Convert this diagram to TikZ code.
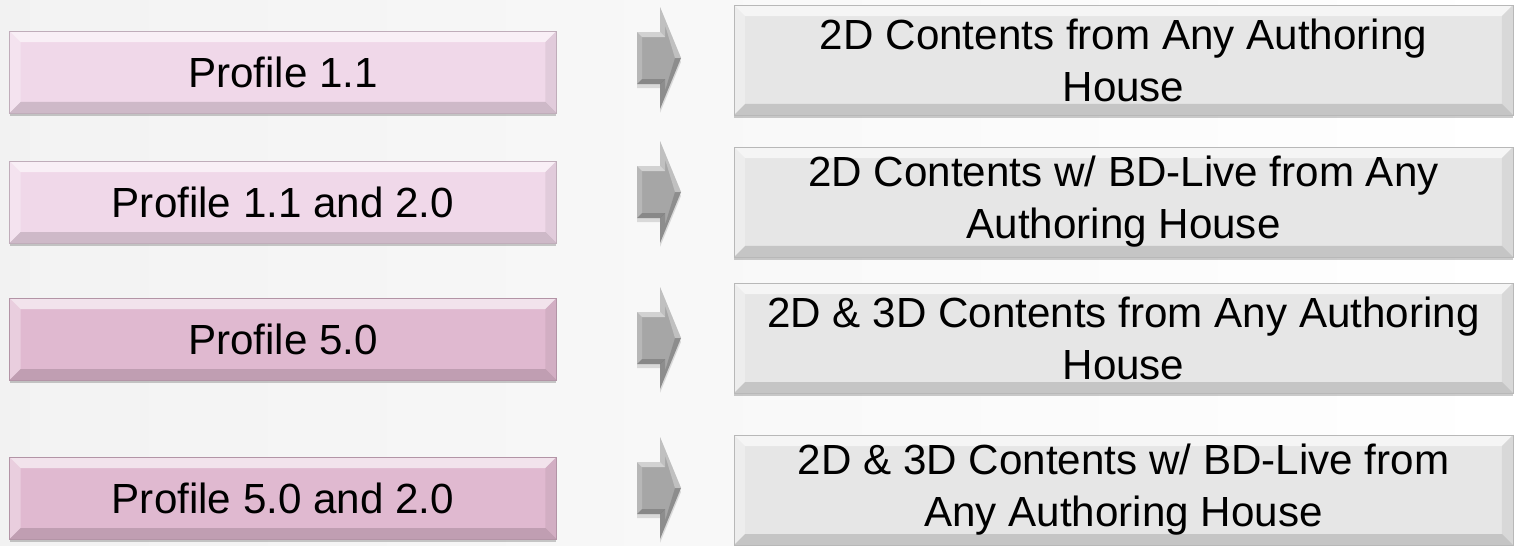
\documentclass[tikz,border=0pt]{standalone}
\usepackage{fontspec}
\setmainfont{Liberation Sans}
\usetikzlibrary{shadows}

\definecolor{pinklight}{RGB}{240,216,233}
\definecolor{pinkdark}{RGB}{224,185,208}
\definecolor{boxgray}{RGB}{230,230,230}
\definecolor{arrgray}{RGB}{166,166,166}

\def\bv{0.22cm} % bevel width

\tikzset{
  bevel/.style={path picture={
    % light facets (top, left)
    \fill[white,opacity=.6] (path picture bounding box.north west) -- (path picture bounding box.north east)
      -- ([shift={(-\bv,-\bv)}]path picture bounding box.north east) -- ([shift={(\bv,-\bv)}]path picture bounding box.north west) -- cycle;
    \fill[white,opacity=.3] (path picture bounding box.north west) -- ([shift={(\bv,-\bv)}]path picture bounding box.north west)
      -- ([shift={(\bv,\bv)}]path picture bounding box.south west) -- (path picture bounding box.south west) -- cycle;
    % dark facets (bottom, right)
    \fill[black,opacity=.14] (path picture bounding box.south west) -- ([shift={(\bv,\bv)}]path picture bounding box.south west)
      -- ([shift={(-\bv,\bv)}]path picture bounding box.south east) -- (path picture bounding box.south east) -- cycle;
    \fill[black,opacity=.06] (path picture bounding box.north east) -- ([shift={(-\bv,-\bv)}]path picture bounding box.north east)
      -- ([shift={(-\bv,\bv)}]path picture bounding box.south east) -- (path picture bounding box.south east) -- cycle;
  }},
  profile/.style={bevel, rectangle, draw=#1!80!black, line width=0.5pt, fill=#1,
    minimum width=10.94cm, minimum height=1.64cm, inner sep=2pt,
    font=\fontsize{24}{29.6}\selectfont,
    drop shadow={shadow xshift=0pt, shadow yshift=-0.06cm, opacity=.2, fill=black}},
  content/.style={profile=boxgray, minimum width=15.58cm, minimum height=2.2cm, align=center},
}

\begin{document}
\begin{tikzpicture}[x=0.02cm,y=0.02cm]

\shade[left color=black!5, right color=white] (0,0) rectangle (1514,-545);
\useasboundingbox (0,0) rectangle (1514,-545);

% profiles
\node[profile=pinklight] (p11)   at (283,-72)  {Profile 1.1};
\node[profile=pinklight] (p1120) at (283,-202) {Profile 1.1 and 2.0};
\node[profile=pinkdark]  (p50)   at (283,-339) {Profile 5.0};
\node[profile=pinkdark]  (p5020) at (283,-498) {Profile 5.0 and 2.0};

% contents
\node[content] (c1) at (1123.5,-60)  {2D Contents from Any Authoring\\House};
\node[content] (c2) at (1123.5,-202) {2D Contents w/ BD-Live from Any\\Authoring House};
\node[content] (c3) at (1123.5,-338) {2D \& 3D Contents from Any Authoring\\House};
\node[content] (c4) at (1123.5,-490) {2D \& 3D Contents w/ BD-Live from\\Any Authoring House};

% block arrows
\foreach \ty in {58,192,338,488}{
\begin{scope}[shift={(0,-\ty)}]
  \fill[black,opacity=.12] (637,22) -- (660,22) -- (660,47) -- (681,-4) -- (660,-55) -- (660,-30) -- (637,-30) -- cycle;
  \fill[arrgray] (637,26) -- (660,26) -- (660,51) -- (681,0) -- (660,-51) -- (660,-26) -- (637,-26) -- cycle;
  \fill[white,opacity=.5]  (637,26) -- (660,26) -- (665,21) -- (642,21) -- cycle;
  \fill[white,opacity=.2]  (637,26) -- (642,21) -- (642,-21) -- (637,-26) -- cycle;
  \fill[white,opacity=.3]  (660,26) -- (660,51) -- (681,0) -- (675,0) -- (665,33) -- (665,21) -- cycle;
  \fill[black,opacity=.15] (681,0) -- (660,-51) -- (660,-26) -- (665,-21) -- (665,-33) -- (675,0) -- cycle;
  \fill[black,opacity=.18] (660,-26) -- (637,-26) -- (642,-21) -- (665,-21) -- cycle;
\end{scope}
}

\end{tikzpicture}
\end{document}
